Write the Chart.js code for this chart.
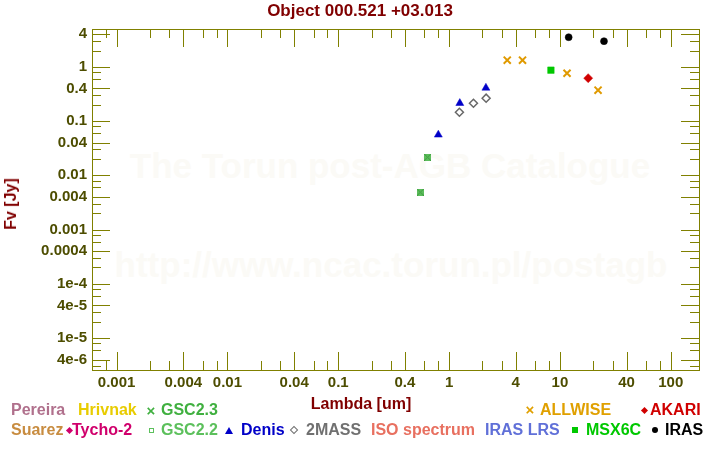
<!DOCTYPE html>
<html>
<head>
<meta charset="utf-8">
<script src="https://cdn.jsdelivr.net/npm/chart.js@4/dist/chart.umd.min.js"></script>
<style>
  body { margin: 0; background: #fff; }
  #wrap { position: relative; width: 720px; height: 450px; overflow: hidden;
          font-family: "Liberation Sans", Arial, sans-serif; font-weight: bold; }
  #wrap canvas { position: absolute; left: 0; top: 0; }
  .t { position: absolute; white-space: nowrap; line-height: 16px; font-size: 16px; }
  .wm { position: absolute; white-space: nowrap; font-size: 35px; line-height: 35px;
        color: #fbfaf6; transform: translateX(-50%); }
  .mk { position: absolute; }
</style>
</head>
<body>
<div id="wrap">
  <div class="wm" style="left:390px; top:148px;">The Torun post-AGB Catalogue</div>
  <div class="wm" style="left:391px; top:247px;">http://www.ncac.torun.pl/postagb</div>
  <canvas id="chartSed" width="720" height="450"></canvas>
  <div class="t" style="left:0; width:720px; text-align:center; top:2px; font-size:17px; line-height:17px; color:#800000;">Object 000.521 +03.013</div>
  <div class="t" style="left:0; width:722px; text-align:center; top:396px; color:#800000;">Lambda [um]</div>
  <div class="t" style="left:11px; top:204px; color:#800000; transform:translate(-50%,-50%) rotate(-90deg);">Fv [Jy]</div>

  <div class="t" style="left:11px; top:402px; color:#b0708c;">Pereira</div>
  <div class="t" style="left:78px; top:402px; color:#e8cc00;">Hrivnak</div>
  <div class="t" style="left:161px; top:402px; color:#40b040;">GSC2.3</div>
  <div class="t" style="left:540px; top:402px; color:#e0a000;">ALLWISE</div>
  <div class="t" style="left:650px; top:402px; color:#d00000;">AKARI</div>

  <div class="t" style="left:11px; top:422px; color:#c88c40;">Suarez</div>
  <div class="t" style="left:72px; top:422px; color:#d0006c;">Tycho-2</div>
  <div class="t" style="left:161px; top:422px; color:#5cc05c;">GSC2.2</div>
  <div class="t" style="left:241px; top:422px; color:#0000c8;">Denis</div>
  <div class="t" style="left:306px; top:422px; color:#707070;">2MASS</div>
  <div class="t" style="left:371px; top:422px; color:#e87060;">ISO spectrum</div>
  <div class="t" style="left:485px; top:422px; color:#6070d8;">IRAS LRS</div>
  <div class="t" style="left:586px; top:422px; color:#00c800;">MSX6C</div>
  <div class="t" style="left:665px; top:422px; color:#000;">IRAS</div>
</div>

<script>
// photometry: wavelength [um] and flux [Jy]
const gsc23Lambda = [0.55, 0.64];
const gsc23Flux = [0.0049, 0.0216];
const denisLambda = [0.80, 1.25, 2.15];
const denisFlux = [0.056, 0.214, 0.41];
const twomassLambda = [1.24, 1.66, 2.16];
const twomassFlux = [0.146, 0.214, 0.265];
const allwiseLambda = [3.35, 4.6, 11.6, 22.1];
const allwiseFlux = [1.33, 1.33, 0.765, 0.372];
const msxLambda = [8.3];
const msxFlux = [0.87];
const akariLambda = [18];
const akariFlux = [0.62];
const irasLambda = [12, 25];
const irasFlux = [3.53, 2.98];

// labelled (long) ticks
const xTickValues = [0.001, 0.004, 0.01, 0.04, 0.1, 0.4, 1, 4, 10, 40, 100];
const xTickLabels = ["0.001", "0.004", "0.01", "0.04", "0.1", "0.4", "1", "4", "10", "40", "100"];
const yTickValues = [4, 1, 0.4, 0.1, 0.04, 0.01, 0.004, 0.001, 0.0004, 1e-4, 4e-5, 1e-5, 4e-6];
const yTickLabels = ["4", "1", "0.4", "0.1", "0.04", "0.01", "0.004", "0.001", "0.0004", "1e-4", "4e-5", "1e-5", "4e-6"];
const minorMantissas = [2, 3, 6, 8];

const axisColor = "#808000";
const tickColor = "#4d4d00";

function pts(xs, ys) {
  return xs.map((x, i) => ({ x: x, y: ys[i] }));
}

function tickList(min, max, labelled) {
  const list = labelled.filter(v => v >= min && v <= max).map(v => ({ value: v, big: true }));
  for (let e = -7; e <= 3; e++) {
    minorMantissas.forEach(m => {
      const v = m * Math.pow(10, e);
      if (v >= min && v <= max) list.push({ value: v, big: false });
    });
  }
  return list.sort((a, b) => a.value - b.value);
}

function labelFor(values, labels, v) {
  const i = values.findIndex(t => Math.abs(t - v) / t < 1e-6);
  return i < 0 ? "" : labels[i];
}

// GSC2.3 marker: green square with a darker cross
const gscMark = document.createElement("canvas");
gscMark.width = 7; gscMark.height = 7;
(function () {
  const c = gscMark.getContext("2d");
  c.fillStyle = "#5cbc5c";
  c.fillRect(0, 0, 7, 7);
  c.strokeStyle = "#3c9c3c";
  c.lineWidth = 1;
  c.beginPath();
  c.moveTo(0, 0); c.lineTo(7, 7);
  c.moveTo(7, 0); c.lineTo(0, 7);
  c.stroke();
})();

const innerTicks = {
  id: "innerTicks",
  beforeDatasetsDraw(chart) {
    const { ctx, chartArea: a, scales } = chart;
    ctx.save();
    ctx.strokeStyle = axisColor;
    ctx.lineWidth = 1;
    ctx.beginPath();
    scales.x.ticks.forEach(t => {
      const px = Math.round(scales.x.getPixelForValue(t.value)) + 0.5;
      const len = t.big ? 18 : 9;
      ctx.moveTo(px, a.top); ctx.lineTo(px, a.top + len);
      ctx.moveTo(px, a.bottom); ctx.lineTo(px, a.bottom - len);
    });
    scales.y.ticks.forEach(t => {
      const py = Math.round(scales.y.getPixelForValue(t.value)) + 0.5;
      const len = t.big ? 18 : 9;
      ctx.moveTo(a.left, py); ctx.lineTo(a.left + len, py);
      ctx.moveTo(a.right, py); ctx.lineTo(a.right - len, py);
    });
    ctx.stroke();
    ctx.strokeRect(a.left + 0.5, a.top + 0.5, a.right - a.left, a.bottom - a.top);
    ctx.restore();
  }
};

const tickFont = { family: "'Liberation Sans', Arial, sans-serif", size: 15, weight: "bold" };

new Chart(document.getElementById("chartSed"), {
  type: "scatter",
  data: {
    datasets: [
      { label: "GSC2.3", data: pts(gsc23Lambda, gsc23Flux), pointStyle: gscMark },
      { label: "Denis", data: pts(denisLambda, denisFlux), pointStyle: "triangle",
        pointRadius: 4.6, backgroundColor: "#0000c8", borderColor: "#0000c8", borderWidth: 0.5 },
      { label: "2MASS", data: pts(twomassLambda, twomassFlux), pointStyle: "rectRot",
        pointRadius: 4, backgroundColor: "rgba(0,0,0,0)", borderColor: "#686868", borderWidth: 1.5 },
      { label: "ALLWISE", data: pts(allwiseLambda, allwiseFlux), pointStyle: "crossRot",
        pointRadius: 5, borderColor: "#e09a00", borderWidth: 2 },
      { label: "MSX6C", data: pts(msxLambda, msxFlux), pointStyle: "rect",
        pointRadius: 4.6, backgroundColor: "#00c800", borderColor: "#00c800", borderWidth: 0.5 },
      { label: "AKARI", data: pts(akariLambda, akariFlux), pointStyle: "rectRot",
        pointRadius: 4.5, backgroundColor: "#d00000", borderColor: "#d00000", borderWidth: 0.5 },
      { label: "IRAS", data: pts(irasLambda, irasFlux), pointStyle: "circle",
        pointRadius: 3.5, backgroundColor: "#000", borderColor: "#000", borderWidth: 0.5 }
    ]
  },
  options: {
    responsive: false,
    animation: false,
    events: [],
    layout: { padding: { left: 0, top: 29, right: 21, bottom: 0 } },
    plugins: { legend: { display: false }, tooltip: { enabled: false } },
    scales: {
      x: {
        type: "logarithmic",
        min: 6.08e-4,
        max: 180,
        grid: { display: false, drawTicks: false },
        border: { display: false },
        afterFit: s => { s.height = 80; },
        afterBuildTicks: s => { s.ticks = tickList(s.min, s.max, xTickValues); },
        ticks: {
          autoSkip: false, maxRotation: 0, minRotation: 0, padding: 4,
          color: tickColor, font: tickFont,
          callback: v => labelFor(xTickValues, xTickLabels, v)
        }
      },
      y: {
        type: "logarithmic",
        min: 2.57e-6,
        max: 5.0,
        grid: { display: false, drawTicks: false },
        border: { display: false },
        afterFit: s => { s.width = 92; },
        afterBuildTicks: s => { s.ticks = tickList(s.min, s.max, yTickValues); },
        ticks: {
          autoSkip: false, padding: 5,
          color: tickColor, font: tickFont,
          callback: v => labelFor(yTickValues, yTickLabels, v)
        }
      }
    }
  },
  plugins: [innerTicks]
});

// legend markers
function mark(kind, cx, cy, color) {
  const d = document.createElement("div");
  d.className = "mk";
  let w = 6, h = 6;
  const s = d.style;
  if (kind === "diamond") {
    s.background = color; s.transform = "rotate(45deg)"; w = 5; h = 5;
  } else if (kind === "odiamond") {
    s.border = "1.5px solid " + color; s.transform = "rotate(45deg)"; w = 4; h = 4;
  } else if (kind === "osquare") {
    s.border = "1.5px solid " + color; w = 3; h = 3;
  } else if (kind === "square") {
    s.background = color; w = 6; h = 6;
  } else if (kind === "circle") {
    s.background = color; s.borderRadius = "50%"; w = 6; h = 6;
  } else if (kind === "triangle") {
    s.borderLeft = "4px solid transparent"; s.borderRight = "4px solid transparent";
    s.borderBottom = "7px solid " + color; w = 0; h = 0;
    s.left = (cx - 4) + "px"; s.top = (cy - 3.5) + "px";
  } else if (kind === "cross") {
    d.textContent = "\u00d7"; s.color = color; s.fontSize = "15px"; s.lineHeight = "15px";
    s.left = (cx - 4.5) + "px"; s.top = (cy - 8) + "px";
  }
  if (kind !== "triangle" && kind !== "cross") {
    const bw = s.border ? 1.5 : 0;
    s.width = w + "px"; s.height = h + "px";
    s.left = (cx - w / 2 - bw) + "px"; s.top = (cy - h / 2 - bw) + "px";
  }
  document.getElementById("wrap").appendChild(d);
}
mark("cross", 151, 410.5, "#40b040");
mark("cross", 530, 410, "#e0a000");
mark("diamond", 644, 410, "#d00000");
mark("diamond", 69.5, 430, "#d0006c");
mark("osquare", 151.5, 430.5, "#5cc05c");
mark("triangle", 229, 430, "#0000c8");
mark("odiamond", 294, 430, "#707070");
mark("square", 575, 430, "#00c800");
mark("circle", 654.5, 430, "#000");
</script>
</body>
</html>
